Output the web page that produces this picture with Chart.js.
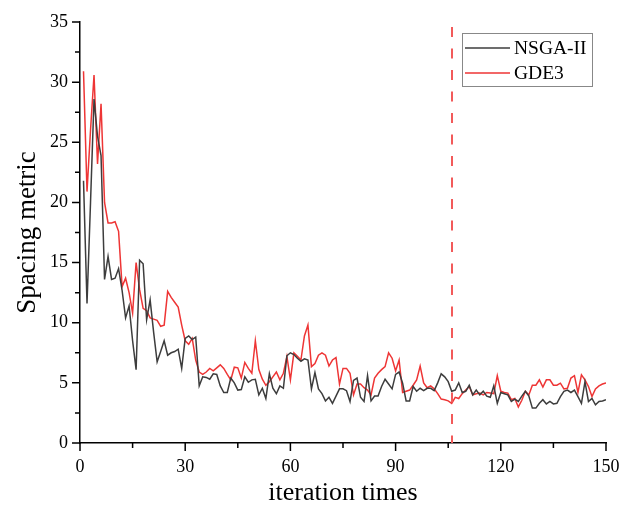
<!DOCTYPE html>
<html>
<head>
<meta charset="utf-8">
<script src="https://cdn.jsdelivr.net/npm/chart.js@4.4.1/dist/chart.umd.min.js"></script>
<style>
  html, body { margin: 0; padding: 0; background: #fff; }
</style>
</head>
<body>
<canvas id="spacingChart" width="624" height="506"></canvas>
<script>
// spacing metric per iteration
const nsga2 = [
  21.8, 11.6, 20.0, 28.6, 25.5, 23.9, 13.6, 15.5, 13.6, 13.7,
  14.5, 12.7, 10.4, 11.4, 8.5, 6.1, 15.2, 14.9, 10.25, 11.9,
  9.2, 6.75, 7.6, 8.5, 7.3, 7.5, 7.6, 7.8, 6.2, 8.7,
  8.9, 8.6, 8.8, 4.75, 5.5, 5.45, 5.3, 5.75, 5.7, 4.75,
  4.2, 4.2, 5.4, 5.0, 4.4, 4.45, 5.5, 5.05, 5.25, 5.3,
  4.0, 4.55, 3.7, 5.75, 4.55, 4.1, 4.75, 4.55, 7.25, 7.5,
  7.35, 7.05, 6.8, 7.0, 6.9, 4.5, 5.86, 4.5, 4.1, 3.5,
  3.8, 3.3, 3.9, 4.5, 4.5, 4.35, 3.45, 5.2, 5.4, 3.8,
  3.45, 5.6, 3.5, 3.9, 3.9, 4.7, 5.3, 4.9, 4.5, 5.7,
  5.9, 4.97, 3.5, 3.5, 4.7, 4.3, 4.55, 4.35, 4.55, 4.55,
  4.35, 5.0, 5.75, 5.5, 5.1, 4.3, 4.4, 5.0, 4.2, 4.3,
  4.8, 4.0, 4.4, 4.0, 4.3, 3.9, 3.8, 4.75, 3.3, 4.2,
  4.1, 4.0, 3.45, 3.64, 3.45, 3.9, 4.3, 3.9, 2.9, 2.9,
  3.3, 3.6, 3.25, 3.45, 3.25, 3.3, 3.86, 4.3, 4.4, 4.2,
  4.4, 3.86, 3.3, 5.1, 3.45, 3.7, 3.17, 3.45, 3.5, 3.6
];

const gde3 = [
  30.9, 20.9, 26.0, 30.6, 23.2, 28.2, 20.0, 18.3, 18.3, 18.4,
  17.6, 13.0, 13.7, 12.5, 10.8, 15.0, 12.75, 11.2, 11.0, 10.4,
  10.3, 10.2, 9.7, 9.8, 12.6, 12.1, 11.7, 11.3, 9.8, 8.5,
  8.2, 8.7, 6.9, 5.9, 5.7, 5.9, 6.2, 6.0, 6.25, 6.5,
  6.2, 5.7, 5.25, 6.3, 6.25, 5.4, 6.7, 6.2, 5.8, 8.5,
  6.1, 5.3, 4.8, 5.1, 5.5, 5.9, 5.25, 5.8, 7.2, 5.25,
  7.5, 7.2, 6.9, 8.9, 9.8, 6.35, 6.6, 7.3, 7.5, 7.3,
  6.4, 6.9, 7.1, 4.9, 6.2, 6.2, 5.8, 4.0, 4.9, 4.9,
  4.6, 4.4, 4.0, 5.4, 5.8, 6.1, 6.35, 7.5, 7.05, 6.0,
  6.9, 4.2, 4.3, 4.4, 4.8, 5.25, 6.4, 5.0, 4.6, 4.75,
  4.5, 4.1, 3.65, 3.6, 3.5, 3.3, 3.8, 3.7, 4.1, 4.4,
  4.7, 4.0, 4.1, 4.15, 4.0, 4.2, 4.15, 4.1, 5.6, 4.3,
  4.2, 4.15, 3.6, 3.7, 3.0, 3.55, 4.3, 4.0, 4.8, 4.8,
  5.25, 4.65, 5.25, 5.25, 4.8, 4.8, 4.97, 4.5, 4.55, 5.4,
  5.6, 4.2, 5.67, 5.25, 4.7, 3.86, 4.5, 4.75, 4.9, 5.0
];

const iterations = nsga2.map((_, i) => i + 1);
const xTickValues = [0, 30, 60, 90, 120, 150];
const yTickValues = [0, 5, 10, 15, 20, 25, 30, 35];
const markerIteration = 106;

const serif = "'Liberation Serif', 'Times New Roman', serif";

const axisDecor = {
  id: 'axisDecor',
  afterDatasetsDraw(chart) {
    const { ctx, chartArea, scales: { x, y } } = chart;
    ctx.save();

    // dashed marker line
    const mx = Math.round(x.getPixelForValue(markerIteration));
    ctx.strokeStyle = '#f25a5a';
    ctx.lineWidth = 2;
    ctx.setLineDash([10, 11.5]);
    ctx.beginPath();
    ctx.moveTo(mx, chartArea.top + 5);
    ctx.lineTo(mx, chartArea.bottom);
    ctx.stroke();
    ctx.setLineDash([]);

    // outward tick marks, major + minor
    ctx.strokeStyle = '#000';
    ctx.lineWidth = 1.5;
    ctx.beginPath();
    for (let k = 0; k < xTickValues.length; k++) {
      const px = x.getPixelForValue(xTickValues[k]);
      ctx.moveTo(px, chartArea.bottom);
      ctx.lineTo(px, chartArea.bottom + 8);
      if (k < xTickValues.length - 1) {
        const mid = x.getPixelForValue((xTickValues[k] + xTickValues[k + 1]) / 2);
        ctx.moveTo(mid, chartArea.bottom);
        ctx.lineTo(mid, chartArea.bottom + 5);
      }
    }
    for (let k = 0; k < yTickValues.length; k++) {
      const py = y.getPixelForValue(yTickValues[k]);
      ctx.moveTo(chartArea.left, py);
      ctx.lineTo(chartArea.left - 8, py);
      if (k < yTickValues.length - 1) {
        const mid = y.getPixelForValue((yTickValues[k] + yTickValues[k + 1]) / 2);
        ctx.moveTo(chartArea.left, mid);
        ctx.lineTo(chartArea.left - 5, mid);
      }
    }
    ctx.stroke();

    // legend box
    ctx.strokeStyle = '#888';
    ctx.lineWidth = 1;
    ctx.strokeRect(462.5, 33.5, 130, 53);
    ctx.font = '19.5px ' + serif;
    ctx.textBaseline = 'middle';
    ctx.fillStyle = '#000';
    chart.data.datasets.forEach((ds, i) => {
      const ly = 48 + i * 25;
      ctx.strokeStyle = ds.borderColor;
      ctx.lineWidth = 1.5;
      ctx.beginPath();
      ctx.moveTo(465, ly);
      ctx.lineTo(510, ly);
      ctx.stroke();
      ctx.fillText(ds.label, 514, ly + 1);
    });

    ctx.restore();
  }
};

new Chart(document.getElementById('spacingChart'), {
  type: 'line',
  data: {
    labels: iterations,
    datasets: [
      {
        label: 'NSGA-II',
        data: nsga2,
        borderColor: '#3d3d3d',
        borderWidth: 1.5,
        pointRadius: 0,
        tension: 0,
      },
      {
        label: 'GDE3',
        data: gde3,
        borderColor: '#ee3535',
        borderWidth: 1.5,
        pointRadius: 0,
        tension: 0,
      },
    ],
  },
  options: {
    responsive: false,
    animation: false,
    devicePixelRatio: 1,
    layout: { padding: { top: 22, right: 18, left: 0, bottom: 0 } },
    plugins: {
      legend: { display: false },
      tooltip: { enabled: false },
    },
    scales: {
      x: {
        type: 'linear',
        min: 0,
        max: 150,
        afterBuildTicks: (s) => { s.ticks = xTickValues.map((v) => ({ value: v })); },
        afterFit: (s) => { s.height = 63; s.paddingLeft = 0; s.paddingRight = 0; },
        grid: { display: false, drawTicks: false },
        border: { display: true, color: '#000', width: 1.5 },
        ticks: {
          padding: 13,
          color: '#000',
          maxRotation: 0,
          autoSkip: false,
          font: { family: serif, size: 18 },
        },
        title: {
          display: true,
          text: 'iteration times',
          color: '#000',
          font: { family: serif, size: 26, lineHeight: 1 },
          padding: { top: 0, bottom: 0 },
        },
      },
      y: {
        min: 0,
        max: 35,
        afterBuildTicks: (s) => { s.ticks = yTickValues.map((v) => ({ value: v })); },
        afterFit: (s) => { s.width = 80; s.paddingTop = 0; s.paddingBottom = 0; },
        grid: { display: false, drawTicks: false },
        border: { display: true, color: '#000', width: 1.5 },
        ticks: {
          padding: 12,
          color: '#000',
          font: { family: serif, size: 18 },
        },
        title: {
          display: true,
          text: 'Spacing metric',
          color: '#000',
          font: { family: serif, size: 27, lineHeight: 1 },
          padding: { top: 14, bottom: 0 },
        },
      },
    },
  },
  plugins: [axisDecor],
});
</script>
</body>
</html>
